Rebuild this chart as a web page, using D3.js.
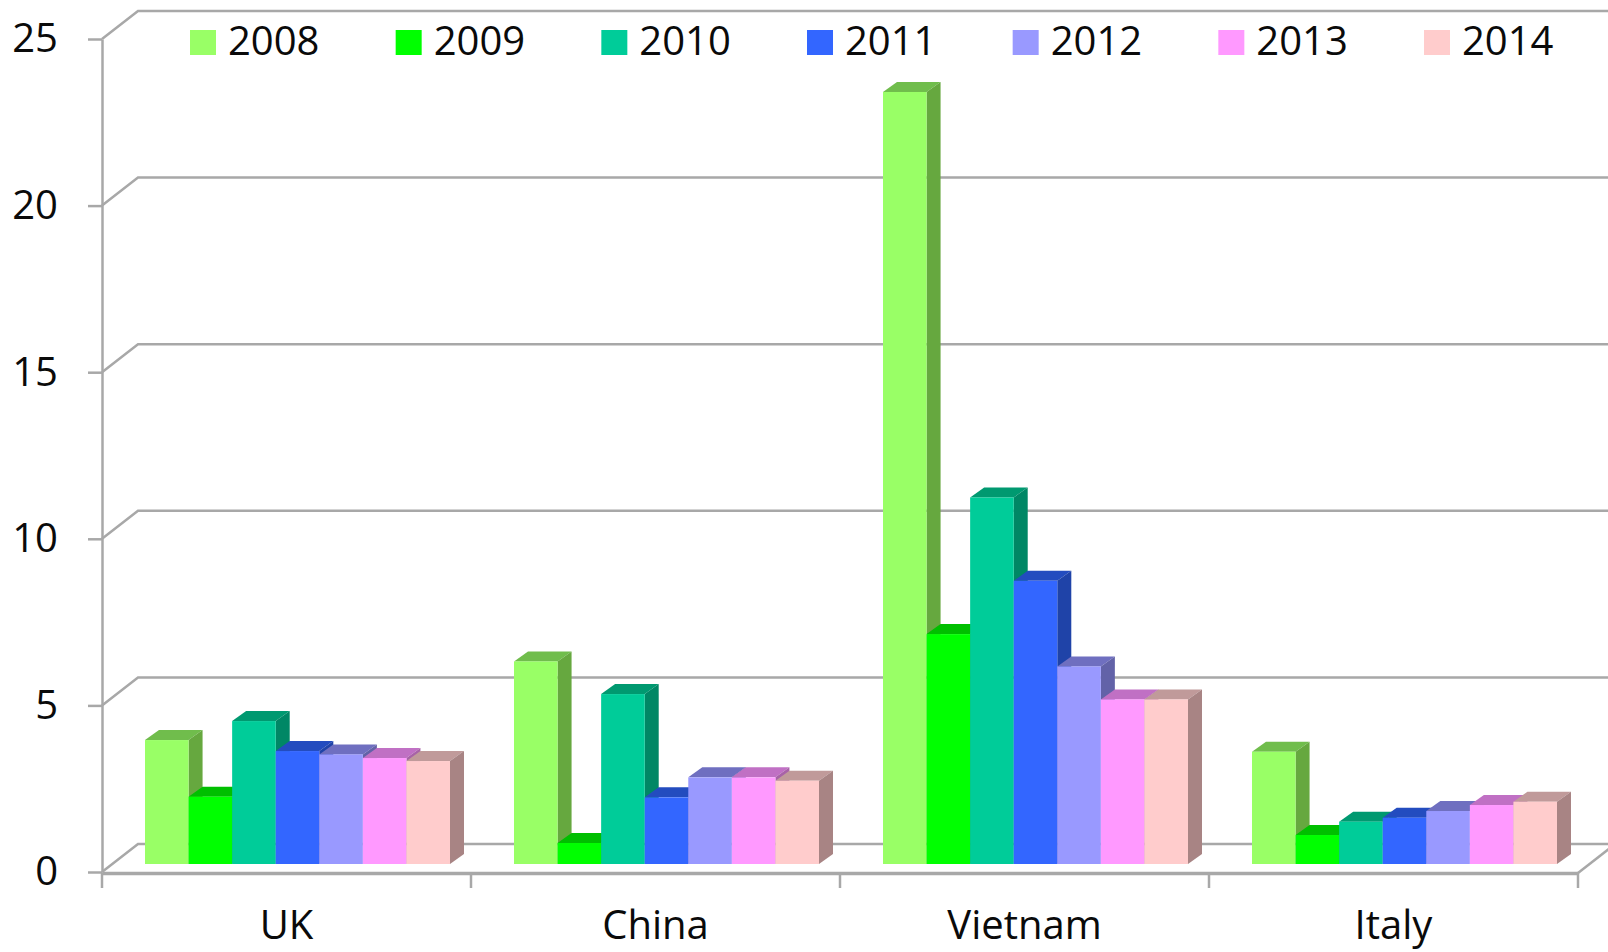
<!DOCTYPE html>
<html>
<head>
<meta charset="utf-8">
<script src="https://cdn.jsdelivr.net/npm/d3@7/dist/d3.min.js"></script>
<style>
  html, body { margin: 0; padding: 0; background: #fff; overflow: hidden; }
  text { font-family: "Open Sans", sans-serif; fill: #0a0a0a; }
</style>
</head>
<body>
<div id="chart"></div>
<script>
const countries = ["UK", "China", "Vietnam", "Italy"];
const years = ["2008", "2009", "2010", "2011", "2012", "2013", "2014"];
const yTicks = [0, 5, 10, 15, 20, 25];

const values2008 = [3.72, 6.08, 23.17, 3.37];
const values2009 = [2.02, 0.63, 6.9, 0.87];
const values2010 = [4.29, 5.1, 11.0, 1.27];
const values2011 = [3.39, 2.0, 8.5, 1.39];
const values2012 = [3.29, 2.6, 5.93, 1.59];
const values2013 = [3.18, 2.6, 4.94, 1.77];
const values2014 = [3.09, 2.5, 4.94, 1.87];
const seriesValues = [values2008, values2009, values2010, values2011, values2012, values2013, values2014];

const frontColors = ["#99ff66", "#00ff00", "#00cc99", "#3366ff", "#9999ff", "#ff99ff", "#ffcccc"];
const topColors = ["#70bd4c", "#00bf00", "#009970", "#234cbf", "#6f6fc0", "#c070c4", "#c09a9a"];
const sideColors = ["#66a83f", "#00a800", "#008765", "#1f43a8", "#6262a8", "#a862a8", "#a88484"];

const width = 1608;
const height = 952;
const wallDx = 36;
const wallDy = -28;
const barDepthDx = 14;
const barDepthDy = -10;
const barOffsetX = 11;
const barOffsetY = -8;
const axisColor = "#a8a8a8";
const labelSize = "40px";

const svg = d3.select("#chart").append("svg")
  .attr("width", width)
  .attr("height", height)
  .attr("viewBox", `0 0 ${width} ${height}`)
  .style("display", "block");

const y = d3.scaleLinear().domain([0, 25]).range([872, 39]);
const x0 = d3.scaleBand().domain(countries).range([102, 1578]);
const x1 = d3.scaleBand().domain(years).range([32, x0.bandwidth() - 32]);

// back wall lines and the diagonals going back from the axis
const grid = svg.append("g")
  .attr("fill", "none")
  .attr("stroke", axisColor)
  .attr("stroke-width", 2.5);

grid.selectAll("path")
  .data(yTicks)
  .enter()
  .append("path")
  .attr("d", (d) => {
    const p = d3.path();
    p.moveTo(x0.range()[0], y(d));
    p.lineTo(x0.range()[0] + wallDx, y(d) + wallDy);
    p.lineTo(width, y(d) + wallDy);
    return p.toString();
  });

// floor right edge
grid.append("line")
  .attr("x1", x0.range()[1])
  .attr("y1", y(0) + 1)
  .attr("x2", x0.range()[1] + wallDx)
  .attr("y2", y(0) + 1 + wallDy);

const yAxis = svg.append("g")
  .attr("transform", `translate(${x0.range()[0]},0)`)
  .call(d3.axisLeft(y).tickValues(yTicks).tickSize(14).tickSizeOuter(0).tickPadding(30));

const xAxis = svg.append("g")
  .attr("transform", `translate(0,${y(0) + 1})`)
  .call(d3.axisBottom(x0).tickSize(0).tickPadding(38));

xAxis.selectAll(".boundary")
  .data([...countries.map((c) => x0(c)), x0.range()[1]])
  .enter()
  .append("line")
  .attr("class", "boundary")
  .attr("x1", (d) => d)
  .attr("x2", (d) => d)
  .attr("y1", 0)
  .attr("y2", 15)
  .attr("stroke", axisColor)
  .attr("stroke-width", 2.5);

[yAxis, xAxis].forEach((axis) => {
  axis.selectAll(".domain, .tick line")
    .attr("stroke", axisColor)
    .attr("stroke-width", 2.5);
  axis.selectAll("text")
    .style("font-family", '"Open Sans", sans-serif')
    .style("font-size", labelSize)
    .attr("fill", "#0a0a0a");
});
xAxis.select(".domain").attr("stroke-width", 3.5);

// bars, left to right so each front face hides the side of the one before
const bars = svg.append("g");

countries.forEach((country, countryIndex) => {
  years.forEach((year, yearIndex) => {
    const value = seriesValues[yearIndex][countryIndex];
    const left = x0(country) + x1(year) + barOffsetX;
    const right = left + x1.bandwidth();
    const top = y(value) + barOffsetY;
    const bottom = y(0) + barOffsetY;
    const bar = bars.append("g");

    bar.append("polygon")
      .attr("points", [
        [left, top],
        [left + barDepthDx, top + barDepthDy],
        [right + barDepthDx, top + barDepthDy],
        [right, top]
      ].join(" "))
      .attr("fill", topColors[yearIndex]);

    bar.append("polygon")
      .attr("points", [
        [right, top],
        [right + barDepthDx, top + barDepthDy],
        [right + barDepthDx, bottom + barDepthDy],
        [right, bottom]
      ].join(" "))
      .attr("fill", sideColors[yearIndex]);

    bar.append("rect")
      .attr("x", left)
      .attr("y", top)
      .attr("width", x1.bandwidth())
      .attr("height", bottom - top)
      .attr("fill", frontColors[yearIndex]);
  });
});

// legend
const legendX = d3.scalePoint().domain(years).range([190, 1424]);

const legendItems = svg.append("g")
  .selectAll("g")
  .data(years)
  .enter()
  .append("g")
  .attr("transform", (d) => `translate(${legendX(d)},30)`);

legendItems.append("rect")
  .attr("width", 26)
  .attr("height", 25)
  .attr("fill", (d, i) => frontColors[i]);

legendItems.append("text")
  .attr("x", 38)
  .attr("y", 11)
  .attr("dy", "0.36em")
  .style("font-size", labelSize)
  .text((d) => d);
</script>
</body>
</html>
